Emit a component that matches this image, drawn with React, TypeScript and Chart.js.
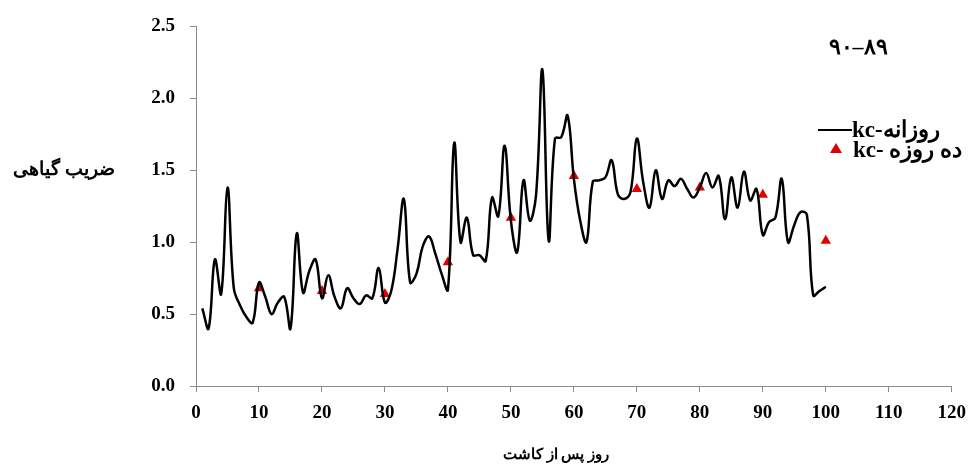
import React, { useEffect, useRef } from "react";
import { Chart, registerables } from "chart.js";

Chart.register(...registerables);

const days: number[] = Array.from({ length: 100 }, (_, i) => i + 1);
const dailyKc: number[] = [
  0.54, 0.4, 0.88, 0.64, 1.38, 0.68, 0.56, 0.48, 0.44, 0.72,
  0.62, 0.5, 0.58, 0.62, 0.4, 1.06, 0.65, 0.8, 0.88, 0.61,
  0.77, 0.62, 0.54, 0.68, 0.61, 0.57, 0.63, 0.61, 0.82, 0.58,
  0.66, 0.95, 1.3, 0.72, 0.78, 0.97, 1.04, 0.92, 0.78, 0.67,
  1.69, 1.0, 1.17, 0.91, 0.91, 0.87, 1.31, 1.18, 1.67, 1.15,
  0.93, 1.43, 1.15, 1.33, 2.2, 1.01, 1.72, 1.73, 1.88, 1.44,
  1.15, 1.0, 1.42, 1.43, 1.45, 1.57, 1.33, 1.3, 1.35, 1.72,
  1.42, 1.24, 1.5, 1.3, 1.43, 1.39, 1.44, 1.37, 1.31, 1.38,
  1.48, 1.38, 1.46, 1.16, 1.45, 1.24, 1.49, 1.29, 1.37, 1.05,
  1.14, 1.17, 1.44, 1.0, 1.12, 1.21, 1.19, 0.63, 0.66, 0.69,
];
const tenDays: number[] = [10, 20, 30, 40, 50, 60, 70, 80, 90, 100];
const tenDayKc: number[] = [0.68, 0.66, 0.64, 0.86, 1.17, 1.46, 1.37, 1.38, 1.33, 1.01];

const xTicks: number[] = [0, 10, 20, 30, 40, 50, 60, 70, 80, 90, 100, 110, 120];
const yTicks: number[] = [0, 0.5, 1.0, 1.5, 2.0, 2.5];

const dailyLabel = "kc-روزانه";
const tenDayLabel = "kc- ده روزه";
const chartTitle = "۹۰–۸۹";
const xTitle = "روز پس از کاشت";
const yTitle = "ضریب گیاهی";

const SERIF = '"Liberation Serif", "DejaVu Serif", serif';

export default function App() {
  const ref = useRef<HTMLCanvasElement | null>(null);

  useEffect(() => {
    if (!ref.current) return;
    const overlay = {
      id: "overlay",
      afterDraw(chart: any) {
        const ctx = chart.ctx;
        ctx.save();
        ctx.fillStyle = "#000";
        ctx.textBaseline = "middle";
        // title
        ctx.font = `bold 22px ${SERIF}`;
        ctx.textAlign = "center";
        ctx.fillText(chartTitle, 858, 48);
        // axis titles
        ctx.font = `bold 19px ${SERIF}`;
        ctx.fillText(yTitle, 64, 170);
        ctx.font = `bold 15px ${SERIF}`;
        ctx.fillText(xTitle, 556, 455);
        // legend
        const ds0 = chart.data.datasets[0];
        const ds1 = chart.data.datasets[1];
        ctx.strokeStyle = ds0.borderColor;
        ctx.lineWidth = 2;
        ctx.beginPath();
        ctx.moveTo(818, 130);
        ctx.lineTo(852, 130);
        ctx.stroke();
        ctx.font = `bold 23px ${SERIF}`;
        ctx.textAlign = "left";
        ctx.fillText(ds0.label, 852, 131);
        // triangle
        ctx.fillStyle = ds1.backgroundColor;
        ctx.beginPath();
        ctx.moveTo(836, 143);
        ctx.lineTo(842, 153);
        ctx.lineTo(830, 153);
        ctx.closePath();
        ctx.fill();
        ctx.fillStyle = "#000";
        ctx.fillText(ds1.label, 853, 151);
        ctx.restore();
      },
    };

    const chart = new Chart(ref.current, {
      type: "line",
      data: {
        datasets: [
          {
            label: dailyLabel,
            data: days.map((d, i) => ({ x: d, y: dailyKc[i] })),
            borderColor: "#000000",
            backgroundColor: "#000000",
            borderWidth: 2.5,
            pointRadius: 0,
            tension: 0.4,
          },
          {
            label: tenDayLabel,
            data: tenDays.map((d, i) => ({ x: d, y: tenDayKc[i] })),
            borderColor: "#e00000",
            backgroundColor: "#e00000",
            showLine: false,
            pointStyle: "triangle",
            pointRadius: 6,
            pointBorderWidth: 0,
          },
        ],
      },
      options: {
        responsive: false,
        animation: false,
        layout: { padding: { left: 0, right: 17, top: 18, bottom: 0 } },
        plugins: { legend: { display: false }, tooltip: { enabled: false }, title: { display: false } },
        scales: {
          x: {
            type: "linear",
            min: 0,
            max: 120,
            afterBuildTicks: (scale: any) => {
              scale.ticks = xTicks.map((v) => ({ value: v }));
            },
            afterFit: (scale: any) => {
              scale.height = 84;
            },
            ticks: {
              color: "#000",
              font: { family: SERIF, size: 19, weight: "bold", lineHeight: 1.4 },
              padding: 8,
              maxRotation: 0,
              autoSkip: false,
            },
            grid: { drawOnChartArea: false, drawTicks: true, tickLength: 6, color: "#8a8a8a" },
            border: { display: true, color: "#8a8a8a", width: 1 },
          },
          y: {
            min: 0,
            max: 2.5,
            afterBuildTicks: (scale: any) => {
              scale.ticks = yTicks.map((v) => ({ value: v }));
            },
            afterFit: (scale: any) => {
              scale.width = 196;
            },
            ticks: {
              color: "#000",
              font: { family: SERIF, size: 19, weight: "bold" },
              padding: 15,
              callback: (v: any) => Number(v).toFixed(1),
            },
            grid: { drawOnChartArea: false, drawTicks: true, tickLength: 6, color: "#8a8a8a" },
            border: { display: true, color: "#8a8a8a", width: 1 },
          },
        },
      },
      plugins: [overlay],
    } as any);
    return () => chart.destroy();
  }, []);

  return (
    <div style={{ position: "absolute", left: 0, top: 0, width: 974, height: 470, background: "#fff" }}>
      <canvas ref={ref} width={974} height={470} style={{ display: "block" }} />
    </div>
  );
}
